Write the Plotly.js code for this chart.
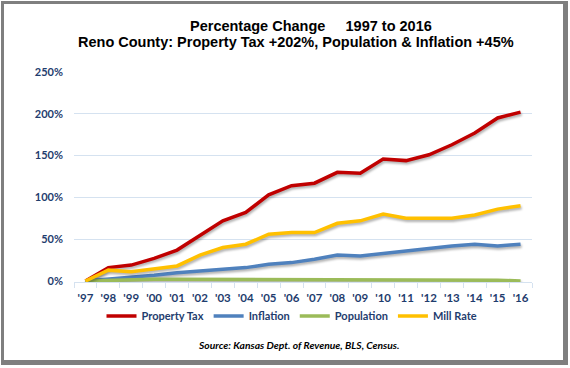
<!DOCTYPE html>
<html>
<head>
<meta charset="utf-8">
<script src="https://cdn.plot.ly/plotly-3.0.1.min.js"></script>
<style>
  html, body { margin: 0; padding: 0; background: #ffffff; }
  #wrap { position: relative; width: 570px; height: 368px; overflow: hidden; background: #fff; }
  #frame { position: absolute; left: 1px; top: 1px; width: 559px; height: 356px;
           border-top: 3px solid #7f7f7f; border-left: 3px solid #7f7f7f;
           border-right: 5px solid #7f7f7f; border-bottom: 5px solid #7f7f7f; pointer-events: none; }
  #chart { position: absolute; left: 0; top: 0; width: 570px; height: 368px; }
  .scatterlayer .js-line { filter: drop-shadow(1px 2px 1px rgba(0,0,0,0.30)); }
</style>
</head>
<body>
<div id="wrap">
  <div id="chart"></div>
  <div id="frame"></div>
</div>
<script>
const years = ["'97","'98","'99","'00","'01","'02","'03","'04","'05","'06","'07","'08","'09","'10","'11","'12","'13","'14","'15","'16"];
const propertyTax = [0, 16, 19, 27, 37, 55, 72, 82, 103, 114, 117, 130, 129, 146, 144, 151, 163, 177, 195, 202];
const inflation   = [0, 2, 4, 7, 10, 12, 13, 16, 20, 22, 26, 31, 30, 33, 37, 40, 42, 44, 42, 44];
const population  = [0, 1, 1.5, 2, 2, 2, 1.5, 1, 1, 1, 1, 1, 2, 2, 2, 2, 2, 1, 1, 0];
const millRate    = [0, 13, 11, 14, 18, 31, 40, 44, 56, 58, 58, 69, 72, 80, 75, 75, 75, 79, 86, 90];
const yTicks = [0, 50, 100, 150, 200, 250];
const yTickText = ["0%", "50%", "100%", "150%", "200%", "250%"];
const titleLine1 = "Percentage Change\u00a0\u00a0\u00a0\u00a0 1997 to 2016";
const titleLine2 = "Reno County: Property Tax +202%, Population & Inflation +45%";
const sourceText = "<i>Source: Kansas Dept. of Revenue, BLS, Census.</i>";

const navy = "#1F3D6E";
const grid = "#D5E2F0";
const lw = 3.5;

function tr(name, y, color) {
  return { type: "scatter", mode: "lines", name: name, x: years, y: y,
           line: { color: color, width: lw }, hoverinfo: "skip" };
}

const data = [
  tr("Property Tax", propertyTax, "#C00000"),
  tr("Inflation", inflation, "#4F81BD"),
  tr("Population", population, "#9BBB59"),
  tr("Mill Rate", millRate, "#FFC000")
];

const L = 74, R = 38, T = 72, B = 86;
const PW = 570 - L - R, PH = 368 - T - B;
const px = v => (v - L) / PW;
const py = v => (368 - B - v) / PH;

const layout = {
  width: 570, height: 368,
  margin: { l: L, r: R, t: T, b: B, pad: 0 },
  paper_bgcolor: "rgba(0,0,0,0)",
  plot_bgcolor: "#ffffff",
  showlegend: true,
  legend: {
    orientation: "h", x: px(292), xanchor: "center", y: py(316), yanchor: "middle",
    font: { family: "Lato, Liberation Sans, sans-serif", size: 11, color: navy, weight: "bold" },
    itemwidth: 30, tracegroupgap: 0, bgcolor: "rgba(0,0,0,0)"
  },
  xaxis: {
    type: "category", range: [-0.5, 19.5], fixedrange: true,
    showgrid: false, showline: true, linecolor: grid, linewidth: 1,
    ticks: "outside", tickson: "boundaries", ticklen: 5, tickcolor: grid, tickwidth: 1,
    tickangle: 0, ticklabelstandoff: 5,
    tickfont: { family: "Lato, Liberation Sans, sans-serif", size: 11.5, color: navy, weight: "bold" },
    zeroline: false
  },
  yaxis: {
    range: [-1.2, 250], fixedrange: true,
    tickvals: yTicks, ticktext: yTickText,
    showgrid: true, gridcolor: grid, gridwidth: 1,
    zeroline: false, showline: false, ticks: "",
    ticklabelstandoff: 10,
    tickfont: { family: "Lato, Liberation Sans, sans-serif", size: 11, color: navy, weight: "bold" }
  },
  annotations: [
    { text: titleLine1, xref: "paper", yref: "paper", x: px(311), y: py(26), xanchor: "center", yanchor: "middle",
      showarrow: false, font: { family: "Liberation Sans, Arial, sans-serif", size: 14.5, color: "#000", weight: "bold" } },
    { text: titleLine2, xref: "paper", yref: "paper", x: px(296), y: py(41.5), xanchor: "center", yanchor: "middle",
      showarrow: false, font: { family: "Liberation Sans, Arial, sans-serif", size: 14.5, color: "#000", weight: "bold" } },
    { text: sourceText, xref: "paper", yref: "paper", x: px(298), y: py(345), xanchor: "center", yanchor: "middle",
      showarrow: false, font: { family: "Lato, Liberation Sans, sans-serif", size: 10.3, color: "#000", weight: "bold" } }
  ]
};

Plotly.newPlot("chart", data, layout, { displayModeBar: false, staticPlot: true });
</script>
</body>
</html>
